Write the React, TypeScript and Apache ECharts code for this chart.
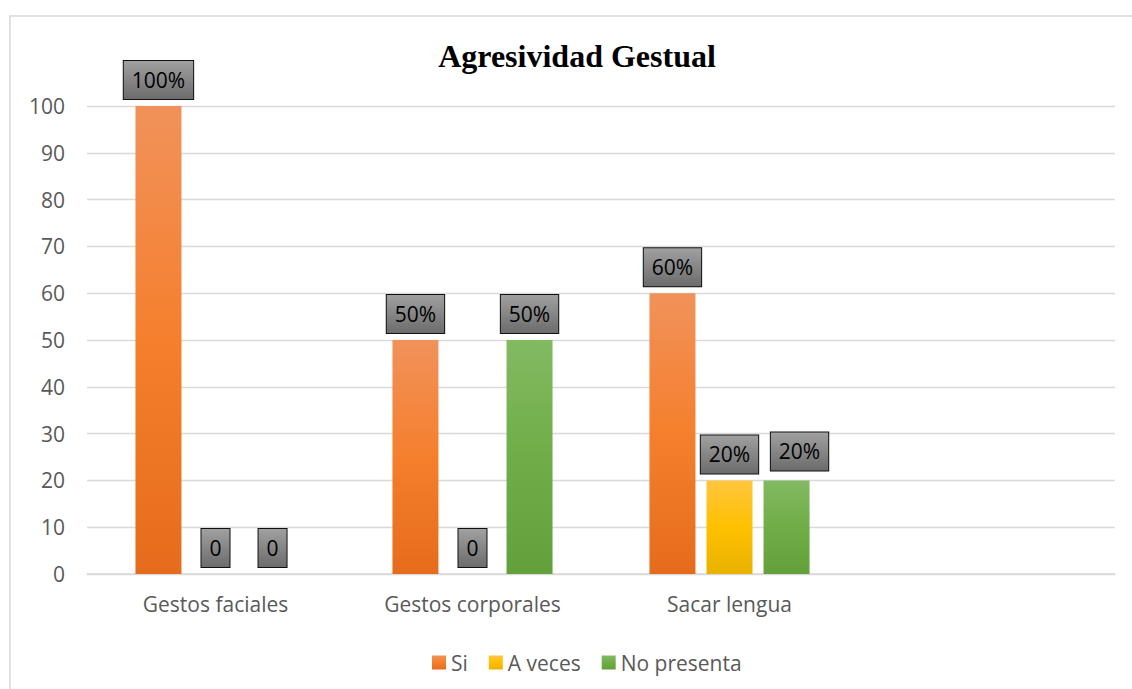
import React, { useEffect, useRef } from "react";
import * as echarts from "echarts";

const categories = ["Gestos faciales", "Gestos corporales", "Sacar lengua", ""];
const siValues = [100, 50, 60, null];
const aVecesValues = [0, 0, 20, null];
const noPresentaValues = [0, 50, 20, null];
const yTicks = { min: 0, max: 100, interval: 10 };
const titleText = "Agresividad Gestual";
const seriesNames = ["Si", "A veces", "No presenta"];

const FONT = "'Open Sans', sans-serif";

function grad(top: string, mid: string, bottom: string) {
  return new echarts.graphic.LinearGradient(0, 0, 0, 1, [
    { offset: 0, color: top },
    { offset: 0.5, color: mid },
    { offset: 1, color: bottom },
  ]);
}

const labelBg = new echarts.graphic.LinearGradient(0, 0, 0, 1, [
  { offset: 0, color: "#a0a0a0" },
  { offset: 1, color: "#6c6c6c" },
]);

const baseLabel = {
  show: true,
  position: "top",
  distance: 7,
  color: "#000000",
  fontFamily: FONT,
  fontSize: 21,
  lineHeight: 24,
  backgroundColor: labelBg,
  borderColor: "#111111",
  borderWidth: 1,
  padding: [7, 8],
  formatter: (p: any) => (p.value === 0 ? "0" : p.value + "%"),
};

export default function App() {
  const ref = useRef<HTMLDivElement>(null);
  useEffect(() => {
    if (!ref.current) return;
    const chart = echarts.init(ref.current, undefined, { renderer: "svg" });
    const mk = (vals: (number | null)[], offsets?: Record<number, number[]>) =>
      vals.map((v, i) =>
        offsets && offsets[i]
          ? { value: v, label: { offset: offsets[i] } }
          : v
      );
    chart.setOption({
      animation: false,
      backgroundColor: "#ffffff",
      title: {
        text: titleText,
        left: 577,
        textAlign: "center",
        top: 40,
        padding: 0,
        textStyle: {
          fontFamily: "'Liberation Serif', 'Times New Roman', serif",
          fontWeight: "bold",
          fontSize: 32,
          color: "#000000",
        },
      },
      graphic: [
        {
          type: "rect",
          shape: { x: 10, y: 16, width: 1160, height: 720 },
          style: { fill: "none", stroke: "#d9d9d9", lineWidth: 1.5 },
          silent: true,
        },
      ],
      legend: {
        data: seriesNames,
        left: 427,
        top: 647,
        itemWidth: 14,
        itemHeight: 14,
        itemGap: 21,
        icon: "rect",
        textStyle: { fontFamily: FONT, fontSize: 21, color: "#595959" },
      },
      grid: { left: 87, right: 17, top: 106, bottom: 115, containLabel: false },
      xAxis: {
        type: "category",
        data: categories,
        axisLine: { lineStyle: { color: "#d9d9d9", width: 1.5 } },
        axisTick: { show: false },
        axisLabel: { fontFamily: FONT, fontSize: 21, color: "#595959", margin: 19 },
      },
      yAxis: {
        type: "value",
        min: yTicks.min,
        max: yTicks.max,
        interval: yTicks.interval,
        axisLine: { show: false },
        axisTick: { show: false },
        splitLine: { lineStyle: { color: "#d9d9d9", width: 1.3 } },
        axisLabel: { fontFamily: FONT, fontSize: 21, color: "#595959", margin: 22 },
      },
      series: [
        {
          name: seriesNames[0],
          type: "bar",
          data: mk(siValues),
          barWidth: 46,
          barGap: "24%",
          itemStyle: { color: grad("#F1925A", "#F57F2D", "#E56C1C") },
          label: baseLabel,
        },
        {
          name: seriesNames[1],
          type: "bar",
          data: mk(aVecesValues),
          barWidth: 46,
          barGap: "24%",
          itemStyle: { color: grad("#FFC63E", "#FFC000", "#E9B200") },
          label: baseLabel,
        },
        {
          name: seriesNames[2],
          type: "bar",
          data: mk(noPresentaValues, { 2: [13, -3] }),
          barWidth: 46,
          barGap: "24%",
          itemStyle: { color: grad("#82BA62", "#70AD47", "#62A13A") },
          label: baseLabel,
        },
      ],
    });
    return () => chart.dispose();
  }, []);
  return (
    <div
      ref={ref}
      style={{ position: "fixed", left: 0, top: 0, width: 1132, height: 689, background: "#fff" }}
    />
  );
}
